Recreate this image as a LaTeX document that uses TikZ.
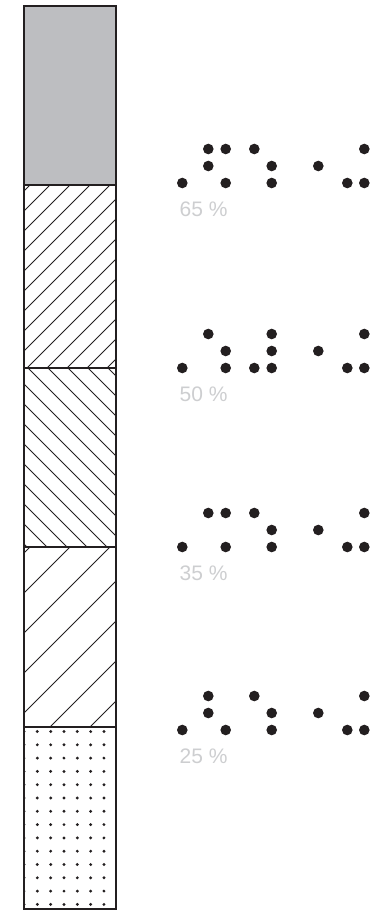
\documentclass[tikz,border=0pt]{standalone}
\usepackage{fontspec}
\setmainfont{Liberation Sans}
\definecolor{bargrey}{RGB}{189,190,193}
\definecolor{ink}{RGB}{35,31,32}
\definecolor{labelgrey}{RGB}{205,206,208}
\begin{document}
\begin{tikzpicture}[x=1pt,y=-1pt,
  frame/.style={draw=ink,line width=2pt},
  hatch/.style={draw=ink,line width=1pt},
  lbl/.style={text=labelgrey,font=\fontsize{21}{21}\selectfont,anchor=base west,inner sep=0pt}]
\useasboundingbox (0,0) rectangle (383,915);
% grey top section
\fill[bargrey] (24,6) rectangle (116,185);
% fine NE hatch
\begin{scope}
\clip (24,185) rectangle (116,368);
\foreach \k in {-2,...,13} \draw[hatch] ({50+20*\k},185) -- ++(-200,200);
\end{scope}
% NW-SE hatch
\begin{scope}
\clip (24,368) rectangle (116,547);
\foreach \k in {-10,...,5} \draw[hatch] ({28+20*\k},368) -- ++(200,200);
\end{scope}
% coarse NE hatch
\begin{scope}
\clip (24,547) rectangle (116,727);
\foreach \k in {-6,...,3} \draw[hatch] ({50+40*\k},727) -- ++(200,-200);
\end{scope}
% dotted bottom section
\begin{scope}
\clip (24,727) rectangle (116,909);
\foreach \i in {0,...,6} \foreach \j in {0,...,13}
  \fill[ink] ({24+13.33*\i},{731.5+13.3*\j}) circle (1.6pt);
\end{scope}
% frame and dividers
\draw[frame] (24,6) rectangle (116,909);
\foreach \yy in {185,368,547,727} \draw[frame] (24,\yy) -- (116,\yy);
% braille groups and labels
\foreach \g/\base/\ra/\rb/\rc/\lab in {
  1/183/{208.3,225.7,254.3,364.3}/{208.3,271.7,318.3}/{182.3,225.7,271.7,347.3,364.3}/65,
  2/368/{208.3,271.7,364.3}/{225.7,271.7,318.3}/{182.3,225.7,254.3,271.7,347.3,364.3}/50,
  3/547/{208.3,225.7,254.3,364.3}/{271.7,318.3}/{182.3,225.7,271.7,347.3,364.3}/35,
  4/730/{208.3,254.3,364.3}/{208.3,271.7,318.3}/{182.3,225.7,271.7,347.3,364.3}/25}{
  \foreach \x in \ra \fill[ink] (\x,{\base-34}) circle (5.3pt);
  \foreach \x in \rb \fill[ink] (\x,{\base-17}) circle (5.3pt);
  \foreach \x in \rc \fill[ink] (\x,\base) circle (5.3pt);
  \node[lbl] (label\g) at (179.5,{\base+33}) {\lab\ \%};
}
\end{tikzpicture}
\end{document}
